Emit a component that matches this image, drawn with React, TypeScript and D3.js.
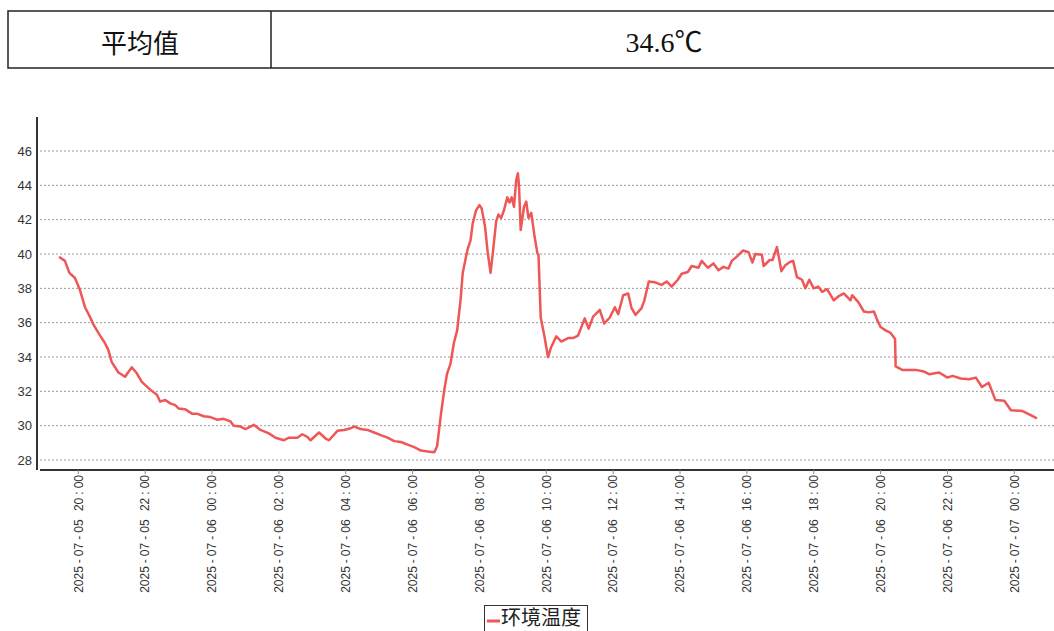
import React from "react";
import * as d3 from "d3";

const avgLabel = "平均值";
const avgValue = "34.6℃";
const seriesName = "环境温度";

const yTicks = [28, 30, 32, 34, 36, 38, 40, 42, 44, 46];
const xTicks = [
  "2025-07-05 20:00", "2025-07-05 22:00", "2025-07-06 00:00", "2025-07-06 02:00",
  "2025-07-06 04:00", "2025-07-06 06:00", "2025-07-06 08:00", "2025-07-06 10:00",
  "2025-07-06 12:00", "2025-07-06 14:00", "2025-07-06 16:00", "2025-07-06 18:00",
  "2025-07-06 20:00", "2025-07-06 22:00", "2025-07-07 00:00",
];

// 2025-07-05 evening
const day5Times = [
  "19:27", "19:36", "19:44", "19:54", "20:03", "20:12", "20:20", "20:27", "20:38", "20:48",
  "20:54", "21:00", "21:12", "21:24", "21:36", "21:45", "21:54", "22:09", "22:21", "22:27",
  "22:36", "22:45", "22:54", "23:00", "23:12", "23:24", "23:33", "23:45", "23:57",
];
const day5Temps = [
  39.8, 39.6, 38.9, 38.6, 37.9, 36.9, 36.4, 35.9, 35.3, 34.8,
  34.4, 33.7, 33.1, 32.85, 33.4, 33.05, 32.55, 32.1, 31.8, 31.4,
  31.5, 31.3, 31.2, 31.0, 30.95, 30.7, 30.7, 30.55, 30.5,
];

// 2025-07-06
const day6Times = [
  "00:09", "00:21", "00:33", "00:39", "00:51", "01:00", "01:15", "01:27", "01:42", "01:54",
  "02:09", "02:18", "02:33", "02:42", "02:51", "02:57", "03:12", "03:24", "03:30", "03:45",
  "03:57", "04:09", "04:15", "04:27", "04:39", "04:51", "05:03", "05:15", "05:27", "05:39",
  "05:51", "06:03", "06:15", "06:27", "06:39", "06:44", "06:51", "06:57", "07:02", "07:08",
  "07:14", "07:20", "07:26", "07:30", "07:36", "07:39", "07:44", "07:48", "07:54", "08:00",
  "08:04", "08:10", "08:15", "08:20", "08:24", "08:30", "08:34", "08:39", "08:44", "08:50",
  "08:54", "08:58", "09:02", "09:06", "09:09", "09:11", "09:14", "09:20", "09:24", "09:28",
  "09:33", "09:39", "09:44", "09:46", "09:50", "09:57", "10:03", "10:09", "10:18", "10:27",
  "10:39", "10:48", "10:57", "11:09", "11:16", "11:24", "11:33", "11:36", "11:44", "11:54",
  "12:03", "12:09", "12:18", "12:27", "12:33", "12:40", "12:51", "12:56", "13:04", "13:15",
  "13:27", "13:36", "13:45", "13:56", "14:03", "14:14", "14:21", "14:33", "14:39", "14:50",
  "15:00", "15:09", "15:18", "15:27", "15:33", "15:42", "15:53", "16:03", "16:10", "16:15",
  "16:27", "16:30", "16:41", "16:46", "16:54", "17:02", "17:09", "17:18", "17:23", "17:30",
  "17:39", "17:45", "17:52", "18:00", "18:08", "18:15", "18:24", "18:36", "18:45", "18:54",
  "19:00", "19:06", "19:09", "19:20", "19:30", "19:39", "19:48", "19:54", "20:00", "20:09",
  "20:18", "20:26", "20:27", "20:39", "21:03", "21:18", "21:27", "21:45", "22:00", "22:09",
  "22:24", "22:39", "22:51", "23:02", "23:14", "23:26", "23:42", "23:54",
];
const day6Temps = [
  30.35, 30.4, 30.25, 30.0, 29.95, 29.8, 30.05, 29.75, 29.55, 29.3,
  29.15, 29.3, 29.3, 29.5, 29.35, 29.15, 29.6, 29.25, 29.15, 29.7,
  29.75, 29.85, 29.95, 29.8, 29.75, 29.6, 29.45, 29.3, 29.1, 29.05,
  28.9, 28.75, 28.55, 28.5, 28.45, 28.8, 30.7, 32.1, 33.05, 33.6,
  34.8, 35.55, 37.3, 38.9, 39.85, 40.3, 40.8, 41.8, 42.55, 42.85,
  42.65, 41.6, 40.05, 38.9, 40.05, 41.9, 42.3, 42.1, 42.55, 43.3,
  43.0, 43.3, 42.75, 44.3, 44.7, 44.0, 41.4, 42.75, 43.05, 42.1,
  42.4, 41.0, 40.05, 39.95, 36.3, 35.15, 34.0, 34.6, 35.2, 34.9,
  35.1, 35.1, 35.25, 36.25, 35.65, 36.35, 36.65, 36.75, 35.95, 36.3,
  36.9, 36.5, 37.6, 37.7, 36.85, 36.45, 36.85, 37.3, 38.4, 38.35,
  38.2, 38.4, 38.1, 38.5, 38.85, 38.95, 39.3, 39.2, 39.6, 39.2,
  39.45, 39.05, 39.25, 39.15, 39.6, 39.85, 40.2, 40.1, 39.5, 40.0,
  39.95, 39.3, 39.65, 39.65, 40.4, 39.0, 39.35, 39.55, 39.6, 38.65,
  38.5, 38.0, 38.5, 38.0, 38.1, 37.8, 37.95, 37.3, 37.55, 37.7,
  37.5, 37.3, 37.6, 37.2, 36.65, 36.6, 36.65, 36.15, 35.75, 35.55,
  35.4, 35.05, 33.45, 33.25, 33.25, 33.15, 33.0, 33.1, 32.8, 32.9,
  32.75, 32.7, 32.8, 32.25, 32.5, 31.5, 31.45, 30.9,
];

// 2025-07-07 early morning
const day7Times = ["00:15", "00:24", "00:39"];
const day7Temps = [30.85, 30.7, 30.45];

const parse = d3.timeParse("%Y-%m-%d %H:%M");

function buildSeries(): [Date, number][] {
  const out: [Date, number][] = [];
  const add = (date: string, ts: string[], vs: number[]) => {
    const n = Math.min(ts.length, vs.length);
    for (let i = 0; i < n; i++) out.push([parse(`${date} ${ts[i]}`) as Date, vs[i]]);
  };
  add("2025-07-05", day5Times, day5Temps);
  add("2025-07-06", day6Times, day6Temps);
  add("2025-07-07", day7Times, day7Temps);
  return out;
}

const LINE_COLOR = "#ef5757";
const AXIS_COLOR = "#333";
const LABEL_FONT = "'Liberation Sans', Arial, sans-serif";
const CJK_FONT = "'Noto Sans CJK SC', sans-serif";

function TickLabel({ d }: { d: Date }) {
  const parts = [
    { t: d3.timeFormat("%Y")(d), dx: 0 },
    { t: "-", dx: 3 },
    { t: d3.timeFormat("%m")(d), dx: 3 },
    { t: "-", dx: 3 },
    { t: d3.timeFormat("%d")(d), dx: 3 },
    { t: " ", dx: 0 },
    { t: d3.timeFormat("%H")(d), dx: 5 },
    { t: ":", dx: 3 },
    { t: d3.timeFormat("%M")(d), dx: 3 },
  ];
  return (
    <>
      {parts.map((p, i) => (
        <tspan key={i} dx={p.dx}>{p.t}</tspan>
      ))}
    </>
  );
}

export default function App() {
  const data = buildSeries();
  const W = 1054;
  const H = 631;

  const x = d3
    .scaleTime()
    .domain([parse("2025-07-05 20:00") as Date, parse("2025-07-07 00:00") as Date])
    .range([78.3, 1014.3]);
  const y = d3.scaleLinear().domain([28, 46]).range([460, 151]);

  const line = d3
    .line<[Date, number]>()
    .x((d) => x(d[0]))
    .y((d) => y(d[1]));

  const plotLeft = 40;
  const plotRight = W;
  const axisY = 470;
  const axisX = 37;

  return (
    <svg
      width={W}
      height={H}
      style={{ position: "absolute", left: 0, top: 0, background: "#fff" }}
    >
      <rect x={0} y={0} width={W} height={H} fill="#fff" />
      {/* summary table */}
      <g>
        <rect x={8} y={11} width={1070} height={57} fill="none" stroke="#222" strokeWidth={1.5} />
        <line x1={271} x2={271} y1={11} y2={68} stroke="#222" strokeWidth={1.5} />
        <text
          x={140}
          y={41}
          textAnchor="middle"
          dominantBaseline="central"
          fontFamily={CJK_FONT}
          fontSize={26}
          fill="#111"
        >
          {avgLabel}
        </text>
        <text
          x={664}
          y={42}
          textAnchor="middle"
          dominantBaseline="central"
          fontFamily={`'Liberation Serif', ${CJK_FONT}`}
          fontSize={28}
          fill="#111"
        >
          {avgValue}
        </text>
      </g>

      {/* grid */}
      <g>
        {yTicks.map((t) => (
          <line
            key={t}
            x1={plotLeft}
            x2={plotRight}
            y1={y(t)}
            y2={y(t)}
            stroke="#999"
            strokeWidth={1}
            strokeDasharray="2,2"
          />
        ))}
      </g>

      {/* y axis */}
      <line x1={axisX} x2={axisX} y1={117} y2={axisY} stroke={AXIS_COLOR} strokeWidth={2} />
      {yTicks.map((t) => (
        <text
          key={t}
          x={32}
          y={y(t)}
          textAnchor="end"
          dominantBaseline="central"
          fontFamily={LABEL_FONT}
          fontSize={13}
          fill="#333"
        >
          {t}
        </text>
      ))}

      {/* x axis */}
      <line x1={plotLeft} x2={plotRight} y1={axisY} y2={axisY} stroke={AXIS_COLOR} strokeWidth={2} />
      {xTicks.map((s) => {
        const d = parse(s) as Date;
        const tx = x(d);
        return (
          <g key={s}>
            <line x1={tx} x2={tx} y1={axisY} y2={axisY + 4} stroke="#888" strokeWidth={1} />
            <text
              transform={`translate(${tx},475) rotate(-90)`}
              textAnchor="end"
              dy="0.36em"
              fontFamily={LABEL_FONT}
              fontSize={12}
              fill="#333"
              style={{ whiteSpace: "pre" }}
            >
              <TickLabel d={d} />
            </text>
          </g>
        );
      })}

      {/* series */}
      <path
        d={line(data) || ""}
        fill="none"
        stroke={LINE_COLOR}
        strokeWidth={2.5}
        strokeLinejoin="round"
        strokeLinecap="round"
      />

      {/* legend */}
      <g>
        <rect x={484.5} y={605.5} width={103} height={40} fill="#fff" stroke="#333" strokeWidth={1} />
        <line x1={487} x2={500} y1={621} y2={621} stroke={LINE_COLOR} strokeWidth={3} />
        <text x={501} y={625} fontFamily={CJK_FONT} fontSize={20} fill="#222">
          {seriesName}
        </text>
      </g>
    </svg>
  );
}
